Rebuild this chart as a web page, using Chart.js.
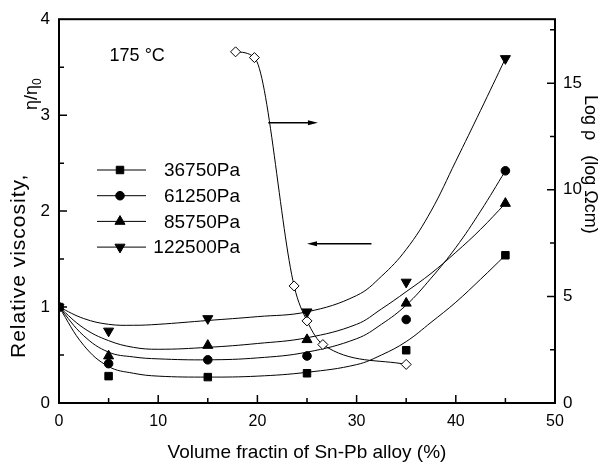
<!DOCTYPE html>
<html>
<head>
<meta charset="utf-8">
<title>Relative viscosity and resistivity vs Sn-Pb fraction</title>
<script src="https://cdn.jsdelivr.net/npm/chart.js"></script>
<style>
  html, body { margin: 0; padding: 0; background: #fff; }
  #wrap { width: 608px; height: 469px; }
</style>
</head>
<body>
<div id="wrap"><canvas id="visc" width="608" height="469"></canvas></div>
<script>
// measured points, relative viscosity (left axis)
const fraction = [0, 5, 15, 25, 35, 45];
const visc36750 = [1.0, 0.28, 0.27, 0.31, 0.55, 1.54];
const visc61250 = [1.0, 0.41, 0.45, 0.49, 0.87, 2.42];
const visc85750 = [1.0, 0.49, 0.60, 0.66, 1.04, 2.08];
const visc122500 = [1.0, 0.75, 0.88, 0.95, 1.26, 3.59];

// fitted curves
const fitFraction = [0, 2.5, 5, 7.5, 10, 15, 20, 25, 30, 32.5, 35, 37.5, 40, 42.5, 45];
const fit36750 = [1.0, 0.60, 0.38, 0.31, 0.28, 0.27, 0.28, 0.32, 0.40, 0.50, 0.64, 0.84, 1.05, 1.29, 1.54];
const fit61250 = [1.0, 0.70, 0.53, 0.48, 0.46, 0.45, 0.47, 0.53, 0.67, 0.82, 1.02, 1.30, 1.62, 2.00, 2.42];
const fit85750 = [1.0, 0.78, 0.65, 0.58, 0.56, 0.58, 0.62, 0.68, 0.82, 0.98, 1.16, 1.35, 1.57, 1.81, 2.08];
const fit122500 = [1.0, 0.88, 0.82, 0.81, 0.82, 0.86, 0.90, 0.95, 1.12, 1.32, 1.60, 2.00, 2.52, 3.05, 3.59];

// log resistivity (right axis)
const rhoFraction = [17.8, 19.7, 23.7, 25.0, 26.6, 35.0];
const logRho = [16.47, 16.2, 5.49, 3.85, 2.74, 1.81];

const seriesNames = ['36750Pa', '61250Pa', '85750Pa', '122500Pa'];
const markerStyles = ['rect', 'circle', 'triangle', 'triangle'];
const markerRot = [0, 0, 0, 180];
const markerSize = [5.3, 4.3, 5.8, 5.8];

const xStep = 10, yStep = 1, y1Step = 5;

const FONT = '"Liberation Sans", Arial, sans-serif';
const pts = (xs, ys) => xs.map((x, i) => ({ x: x, y: ys[i] }));

const pointSets = [visc36750, visc61250, visc85750, visc122500];
const fitSets = [fit36750, fit61250, fit85750, fit122500];

const datasets = [];
pointSets.forEach((vals, i) => {
  datasets.push({
    label: seriesNames[i],
    data: pts(fraction, vals),
    showLine: false,
    pointStyle: markerStyles[i],
    rotation: markerRot[i],
    pointRadius: markerSize[i],
    backgroundColor: '#000',
    borderColor: '#000',
    borderWidth: 1,
    yAxisID: 'y'
  });
});
datasets.push({
  label: 'Log rho',
  data: pts(rhoFraction, logRho),
  showLine: true,
  cubicInterpolationMode: 'monotone',
  borderColor: '#000',
  borderWidth: 1,
  pointStyle: 'rectRot',
  pointRadius: 5,
  pointBackgroundColor: '#fff',
  pointBorderColor: '#000',
  pointBorderWidth: 1,
  yAxisID: 'y1'
});
fitSets.forEach((vals, i) => {
  datasets.push({
    label: seriesNames[i] + ' fit',
    data: pts(fitFraction, vals),
    showLine: true,
    tension: 0.4,
    borderColor: '#000',
    borderWidth: 1,
    pointRadius: 0,
    yAxisID: 'y'
  });
});

function arrow(ctx, x1, y1, x2, y2) {
  const dir = Math.sign(x2 - x1);
  ctx.beginPath();
  ctx.moveTo(x1, y1);
  ctx.lineTo(x2 - dir * 6, y2);
  ctx.stroke();
  ctx.beginPath();
  ctx.moveTo(x2, y2);
  ctx.lineTo(x2 - dir * 10, y2 - 2.5);
  ctx.lineTo(x2 - dir * 10, y2 + 2.5);
  ctx.closePath();
  ctx.fill();
}

const decor = {
  id: 'decor',
  afterDraw(chart) {
    const { ctx, chartArea: a, scales } = chart;
    const sx = scales.x, sy = scales.y, sy1 = scales.y1;
    ctx.save();
    ctx.strokeStyle = '#000';
    ctx.fillStyle = '#000';

    // frame
    ctx.lineWidth = 2;
    ctx.strokeRect(a.left, a.top, a.right - a.left, a.bottom - a.top);

    // inward ticks
    ctx.lineWidth = 1.5;
    const ticks = (scale, step, draw) => {
      for (let v = scale.min + step / 2; v < scale.max - 1e-9; v += step / 2) {
        const major = Math.abs(v / step - Math.round(v / step)) < 1e-6;
        draw(scale.getPixelForValue(v), major ? 8 : 5);
      }
    };
    ctx.beginPath();
    ticks(sx, xStep, (p, l) => { ctx.moveTo(p, a.bottom); ctx.lineTo(p, a.bottom - l); });
    ticks(sy, yStep, (p, l) => { ctx.moveTo(a.left, p); ctx.lineTo(a.left + l, p); });
    ticks(sy1, y1Step, (p, l) => { ctx.moveTo(a.right, p); ctx.lineTo(a.right - l, p); });
    ctx.stroke();

    // axis titles
    ctx.textBaseline = 'alphabetic';
    ctx.font = '19px ' + FONT;
    ctx.textAlign = 'center';
    ctx.fillText('Volume fractin of Sn-Pb alloy (%)', (a.left + a.right) / 2, 458);

    ctx.save();
    ctx.translate(25, 358);
    ctx.rotate(-Math.PI / 2);
    ctx.textAlign = 'left';
    ctx.font = '21px ' + FONT;
    ctx.letterSpacing = '1px';
    ctx.fillText('Relative viscosity,', 0, 0);
    ctx.letterSpacing = '0px';
    ctx.font = '18px ' + FONT;
    ctx.fillText('\u03b7/\u03b7', 248, 12);
    const w = ctx.measureText('\u03b7/\u03b7').width;
    ctx.font = '12px ' + FONT;
    ctx.fillText('0', 248 + w, 16);
    ctx.restore();

    ctx.save();
    ctx.translate(585, 95);
    ctx.rotate(Math.PI / 2);
    ctx.textAlign = 'left';
    ctx.font = '18px ' + FONT;
    ctx.fillText('Log \u03c1   (log \u03a9cm)', 0, 0);
    ctx.restore();

    // temperature label
    ctx.font = '18px ' + FONT;
    ctx.textAlign = 'left';
    ctx.textBaseline = 'middle';
    ctx.fillText('175 \u00b0C', sx.getPixelForValue(5.1), sy.getPixelForValue(3.62));

    // legend
    ctx.lineWidth = 1;
    ctx.font = '19px ' + FONT;
    ctx.textAlign = 'right';
    seriesNames.forEach((name, i) => {
      const y = 170 + i * 25.7;
      ctx.beginPath();
      ctx.moveTo(97, y);
      ctx.lineTo(146, y);
      ctx.stroke();
      Chart.helpers.drawPoint(ctx, {
        pointStyle: markerStyles[i], rotation: markerRot[i],
        radius: markerSize[i], borderWidth: 1
      }, 120, y);
      ctx.fillText(name, 240, y + 1);
    });

    // arrows pointing to the axis each curve belongs to
    ctx.lineWidth = 1.5;
    arrow(ctx, sx.getPixelForValue(21.1), sy.getPixelForValue(2.92),
               sx.getPixelForValue(26.1), sy.getPixelForValue(2.92));
    arrow(ctx, sx.getPixelForValue(31.5), sy.getPixelForValue(1.66),
               sx.getPixelForValue(25.0), sy.getPixelForValue(1.66));

    ctx.restore();
  }
};

const tickFont = { family: FONT, size: 17 };

new Chart(document.getElementById('visc'), {
  type: 'scatter',
  data: { datasets: datasets },
  options: {
    responsive: false,
    animation: false,
    layout: { padding: { top: 15, left: 0, right: 0, bottom: 0 } },
    plugins: { legend: { display: false }, tooltip: { enabled: false } },
    scales: {
      x: {
        type: 'linear', min: 0, max: 50,
        grid: { display: false, drawTicks: false },
        border: { display: false },
        ticks: { stepSize: xStep, color: '#000', font: { family: FONT, size: 16 }, padding: 9, maxRotation: 0 },
        afterFit: s => { s.height = 66; }
      },
      y: {
        type: 'linear', position: 'left', min: 0, max: 4,
        grid: { display: false, drawTicks: false },
        border: { display: false },
        ticks: { stepSize: yStep, color: '#000', font: tickFont, padding: 9 },
        afterFit: s => { s.width = 59; }
      },
      y1: {
        type: 'linear', position: 'right', min: 0, max: 18,
        grid: { display: false, drawTicks: false },
        border: { display: false },
        ticks: { stepSize: y1Step, color: '#000', font: tickFont, padding: 8, includeBounds: false },
        afterFit: s => { s.width = 53; }
      }
    }
  },
  plugins: [decor]
});
</script>
</body>
</html>
